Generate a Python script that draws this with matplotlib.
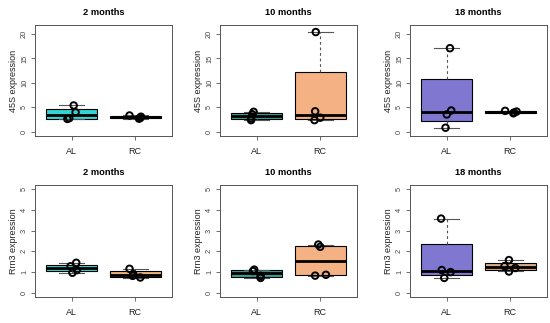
import numpy as np
import matplotlib
matplotlib.use("Agg")
import matplotlib.pyplot as plt

plt.rcParams['font.family'] = ['Liberation Sans', 'DejaVu Sans']

# ---- data ----
titles = ["2 months", "10 months", "18 months"]
groups = ["AL", "RC"]
row_labels = ["45S expression", "Rrn3 expression"]

s45_2m_AL = [2.65, 2.8, 4.0, 5.4]
s45_2m_RC = [2.7, 2.85, 3.1, 3.35]
s45_10m_AL = [2.4, 2.75, 3.6, 4.1]
s45_10m_RC = [2.4, 2.9, 4.2, 20.4]
s45_18m_AL = [0.85, 3.56, 4.37, 17.1]
s45_18m_RC = [3.8, 3.95, 4.15, 4.3]

rrn3_2m_AL = [0.97, 1.1, 1.28, 1.45]
rrn3_2m_RC = [0.74, 0.82, 0.9, 1.16]
rrn3_10m_AL = [0.72, 0.82, 1.05, 1.12]
rrn3_10m_RC = [0.83, 0.87, 2.22, 2.33]
rrn3_18m_AL = [0.72, 1.0, 1.1, 3.58]
rrn3_18m_RC = [1.03, 1.2, 1.29, 1.58]

ytick_top = [0, 5, 10, 15, 20]
ytick_bot = [0, 1, 2, 3, 4, 5]

# ---- styling / layout (not data) ----
colors = [["#35D4D4", "#E9B07F"], ["#3E9C98", "#F4B183"], ["#7F77D0", "#D8AA86"]]
jit = {
    (0, 0, 0): [-0.07, -0.04, 0.06, 0.03], (0, 0, 1): [0.06, 0.08, 0.09, -0.09],
    (0, 1, 0): [-0.09, -0.09, -0.07, -0.05], (0, 1, 1): [-0.09, 0.0, -0.08, -0.07],
    (0, 2, 0): [-0.02, 0.0, 0.07, 0.05], (0, 2, 1): [0.05, 0.06, 0.1, -0.08],
    (1, 0, 0): [0.01, 0.08, -0.02, 0.07], (1, 0, 1): [0.08, -0.04, -0.03, -0.09],
    (1, 1, 0): [0.06, 0.06, -0.06, -0.04], (1, 1, 1): [-0.08, 0.09, 0.0, -0.03],
    (1, 2, 0): [-0.04, 0.06, -0.08, -0.09], (1, 2, 1): [-0.02, 0.08, -0.09, -0.02],
}

data = [[[s45_2m_AL, s45_2m_RC], [s45_10m_AL, s45_10m_RC], [s45_18m_AL, s45_18m_RC]],
        [[rrn3_2m_AL, rrn3_2m_RC], [rrn3_10m_AL, rrn3_10m_RC], [rrn3_18m_AL, rrn3_18m_RC]]]


def fivenum_stats(vals, label):
    x = np.sort(np.asarray(vals, float))
    n = len(x)
    n4 = np.floor((n + 3) / 2) / 2
    d = np.array([1, n4, (n + 1) / 2, n + 1 - n4, n])
    q = 0.5 * (x[np.floor(d - 1).astype(int)] + x[np.ceil(d - 1).astype(int)])
    iqr = q[3] - q[1]
    lo = x[x >= q[1] - 1.5 * iqr].min()
    hi = x[x <= q[3] + 1.5 * iqr].max()
    return dict(med=q[2], q1=q[1], q3=q[3], whislo=lo, whishi=hi, fliers=[], label=label)


fig = plt.figure(figsize=(5.5, 3.23), dpi=100)
W, H = 550.0, 323.0
lefts = [35, 220, 410]
width = 137
rows = [(25, 136), (185, 297)]
ylims = [(-0.84, 21.84), (-0.2, 5.2)]
yticks = [ytick_top, ytick_bot]
axis_col = "#555555"

for r in range(2):
    for c in range(3):
        top, bot = rows[r]
        ax = fig.add_axes([lefts[c] / W, 1 - bot / H, width / W, (bot - top) / H])
        stats = [fivenum_stats(v, g) for v, g in zip(data[r][c], groups)]
        bp = ax.bxp(stats, positions=[1, 2], widths=0.8, patch_artist=True,
                    showfliers=False,
                    boxprops=dict(edgecolor="black", linewidth=0.8),
                    medianprops=dict(color="black", linewidth=2.0, solid_capstyle="butt"),
                    whiskerprops=dict(color="#555555", linewidth=0.8, linestyle=(0, (2.5, 2.5))),
                    capprops=dict(color="#555555", linewidth=0.8), capwidths=0.4)
        for patch, col in zip(bp["boxes"], colors[c]):
            patch.set_facecolor(col)
        for g in range(2):
            vals = np.sort(data[r][c][g])
            xs = (g + 1) + np.array(jit[(r, c, g)])
            ax.scatter(xs, vals, s=22, facecolors="none", edgecolors="black",
                       linewidths=1.4, zorder=5)
        ax.set_xlim(0.42, 2.58)
        ax.set_ylim(*ylims[r])
        ax.set_xticks([1, 2])
        ax.set_xticklabels(groups, fontsize=6.5, color="#222222")
        ax.set_yticks(yticks[r])
        ax.set_yticklabels([str(t) for t in yticks[r]], fontsize=5.3, rotation=90,
                           va="center", color="#444444")
        ax.tick_params(axis="both", colors=axis_col, length=3, width=0.6)
        ax.tick_params(axis="x", pad=5, labelcolor="#222222")
        ax.tick_params(axis="y", pad=2, labelcolor="#444444")
        for sp in ax.spines.values():
            sp.set_color(axis_col)
            sp.set_linewidth(0.7)
        ax.set_title(titles[c], fontsize=6.7, fontweight="bold", pad=7)
        ax.set_ylabel(row_labels[r], fontsize=6.5, color="#222222", labelpad=2.5)

fig.savefig("out.png", dpi=100)
